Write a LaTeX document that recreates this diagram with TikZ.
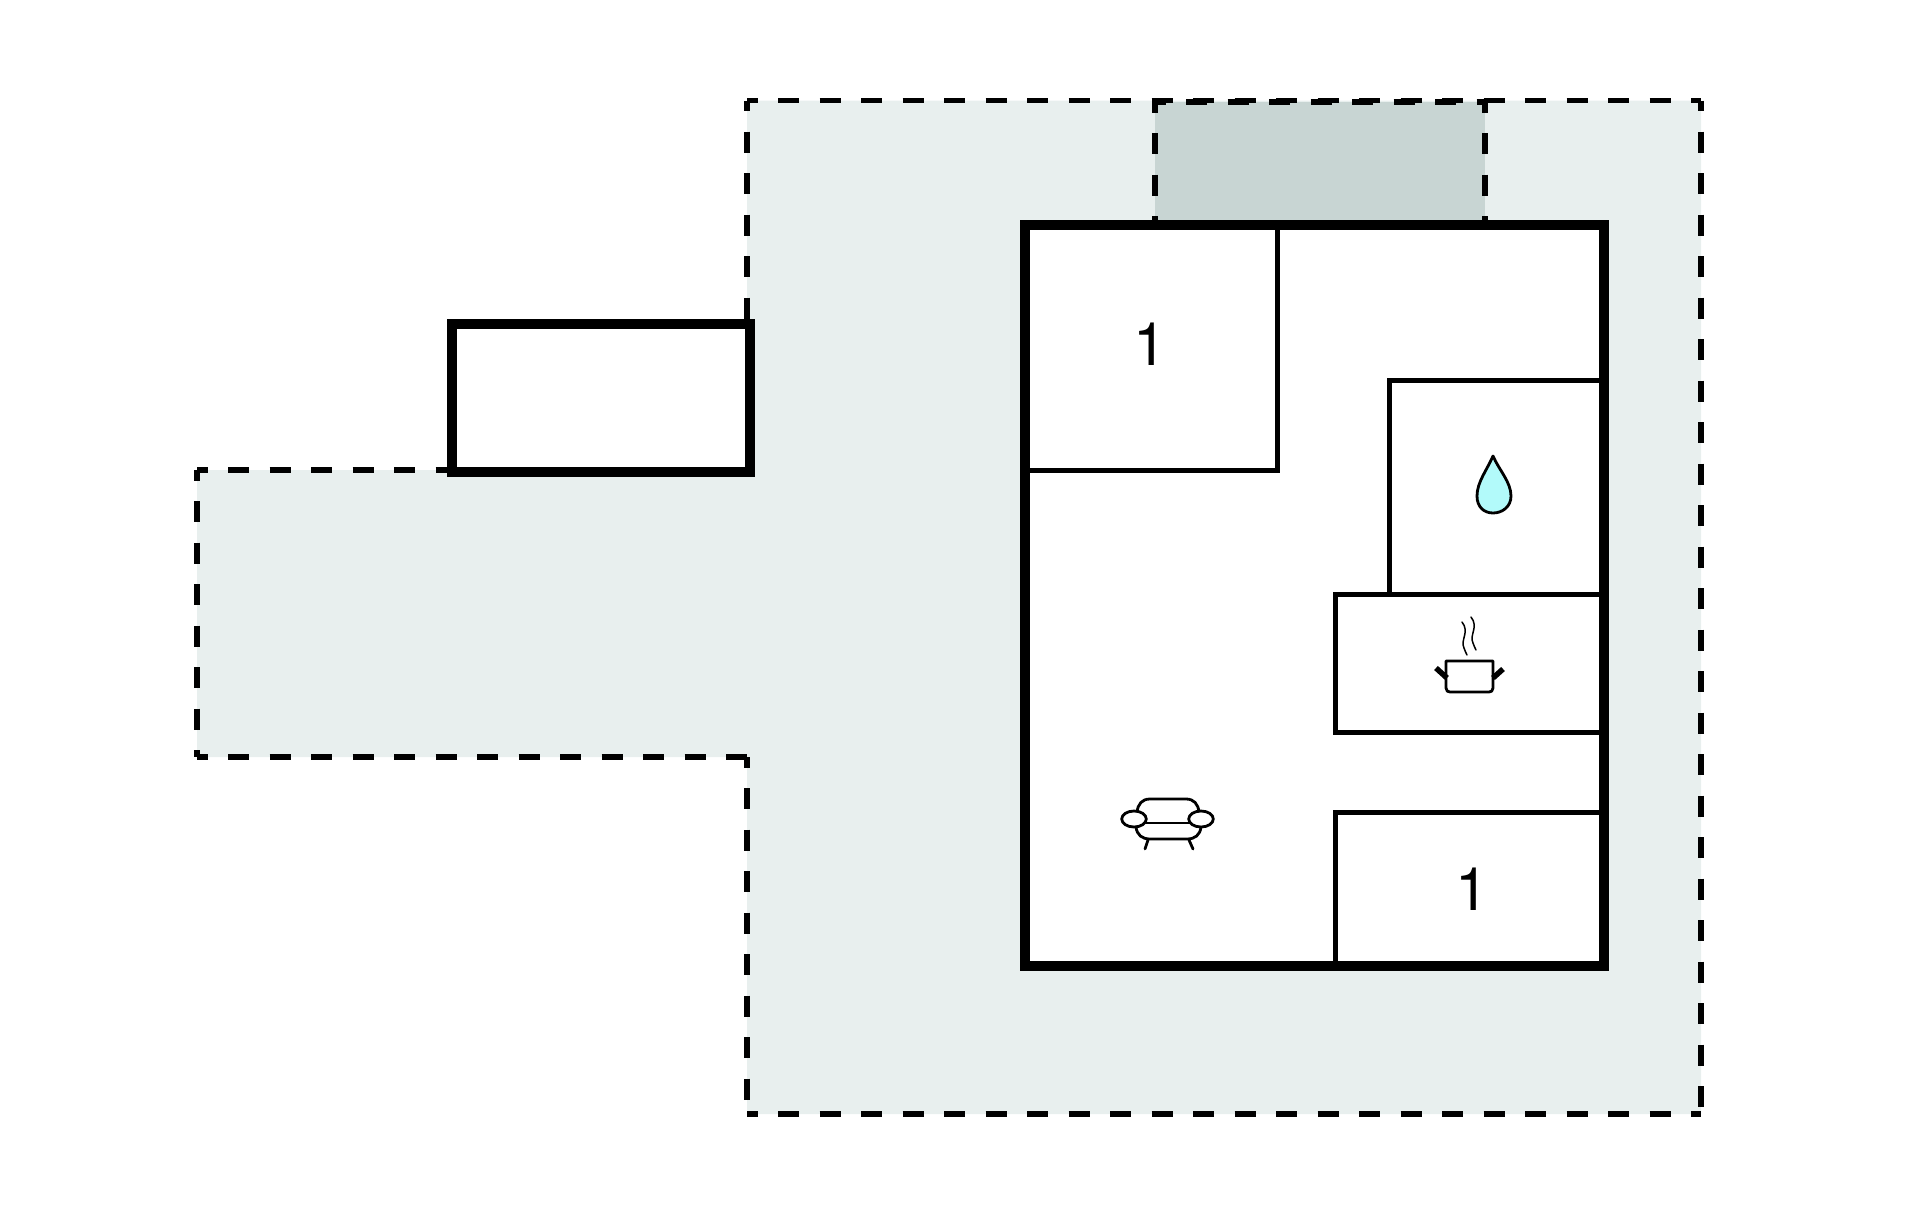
\documentclass[tikz,border=0pt]{standalone}
\usepackage{fontspec}
\setmainfont{TeX Gyre Heros}
\tikzset{
  x=1pt,y=-1pt,
  dashline/.style={draw=black,line width=5.5pt,dash pattern=on 20.9pt off 20.6pt,dash phase=10.4pt},
  wall/.style={draw=black,line width=10.5pt,miter limit=10,fill=white},
  room/.style={draw=black,line width=5pt},
  icon/.style={draw=black,line width=2.8pt,line cap=round,line join=round},
  steam/.style={draw=black,line width=1.5pt,line cap=round},
  numlabel/.style={font=\fontsize{60}{60}\selectfont,inner sep=0pt,text=black}
}
\definecolor{yardfill}{HTML}{E8EFEE}
\definecolor{porchfill}{HTML}{C8D5D3}
\definecolor{dropfill}{HTML}{B2FAFA}
\begin{document}
\begin{tikzpicture}
\useasboundingbox (0,0) rectangle (1920,1221);
% yard
\fill[yardfill] (197,470) -- (747,470) -- (747,100.5) -- (1701,100.5) -- (1701,1114) -- (747,1114) -- (747,757) -- (197,757) -- cycle;
% porch
\fill[porchfill] (1155,102) rectangle (1485,220);
% yard outline
\draw[dashline] (197,470) -- (452,470);
\draw[dashline] (197,470) -- (197,757);
\draw[dashline] (197,757) -- (747,757);
\draw[dashline] (747,757) -- (747,1114);
\draw[dashline] (747,1114) -- (1701,1114);
\draw[dashline] (1701,100.5) -- (1701,1114);
\draw[dashline] (747,100.5) -- (1701,100.5);
\draw[dashline] (747,100.5) -- (747,322);
% porch outline
\draw[dashline] (1155,102) -- (1485,102);
\draw[dashline] (1155,102) -- (1155,222);
\draw[dashline] (1485,102) -- (1485,222);
% outbuilding
\draw[wall] (452,324) rectangle (750,472);
% house
\draw[wall] (1025,225) rectangle (1604,966);
% rooms
\draw[room] (1277,225) -- (1277,470) -- (1025,470);
\draw[room] (1604,380) -- (1389,380) -- (1389,594);
\draw[room] (1604,594.5) -- (1335,594.5) -- (1335,732) -- (1604,732);
\draw[room] (1335,966) -- (1335,812) -- (1604,812);
% labels
\node[numlabel] (bedA) at (1150.5,344.5) {1};
\node[numlabel] (bedB) at (1472.5,889) {1};
% drop
\draw[icon,fill=dropfill] (1493,456) .. controls (1487,470) and (1477,482) .. (1477,496) .. controls (1477,507) and (1484,513) .. (1493,513) .. controls (1502,513) and (1511,507) .. (1511,496) .. controls (1511,482) and (1499,470) .. (1493,456) -- cycle;
% pot
\draw[icon] (1446,661) -- (1493,661) -- (1493,688) .. controls (1493,691) and (1491,692) .. (1489,692) -- (1450,692) .. controls (1448,692) and (1446,691) .. (1446,688) -- cycle;
\draw[black,line width=5.5pt] (1447,678) -- (1436,668);
\draw[black,line width=5.5pt] (1493,678) -- (1503,669);
\draw[steam] (1462,622) .. controls (1470,632) and (1460,640) .. (1464,648) .. controls (1465,651) and (1466,653) .. (1467,655);
\draw[steam] (1471,617) .. controls (1479,627) and (1469,635) .. (1473,643) .. controls (1474,646) and (1475,648) .. (1476,650);
% sofa
\draw[icon] (1137,812) .. controls (1138,804) and (1142,799) .. (1150,799) -- (1186,799) .. controls (1194,799) and (1198,804) .. (1199,812);
\draw[icon] (1146,823) -- (1190,823);
\draw[icon] (1136,827) .. controls (1137,835) and (1142,839) .. (1150,839) -- (1187,839) .. controls (1195,839) and (1200,835) .. (1201,827);
\draw[icon] (1148,840) -- (1145,849);
\draw[icon] (1189,840) -- (1193,849);
\draw[icon,fill=white] (1134,819) ellipse [x radius=12.3,y radius=8];
\draw[icon,fill=white] (1201,819) ellipse [x radius=12.3,y radius=8];
\end{tikzpicture}
\end{document}
